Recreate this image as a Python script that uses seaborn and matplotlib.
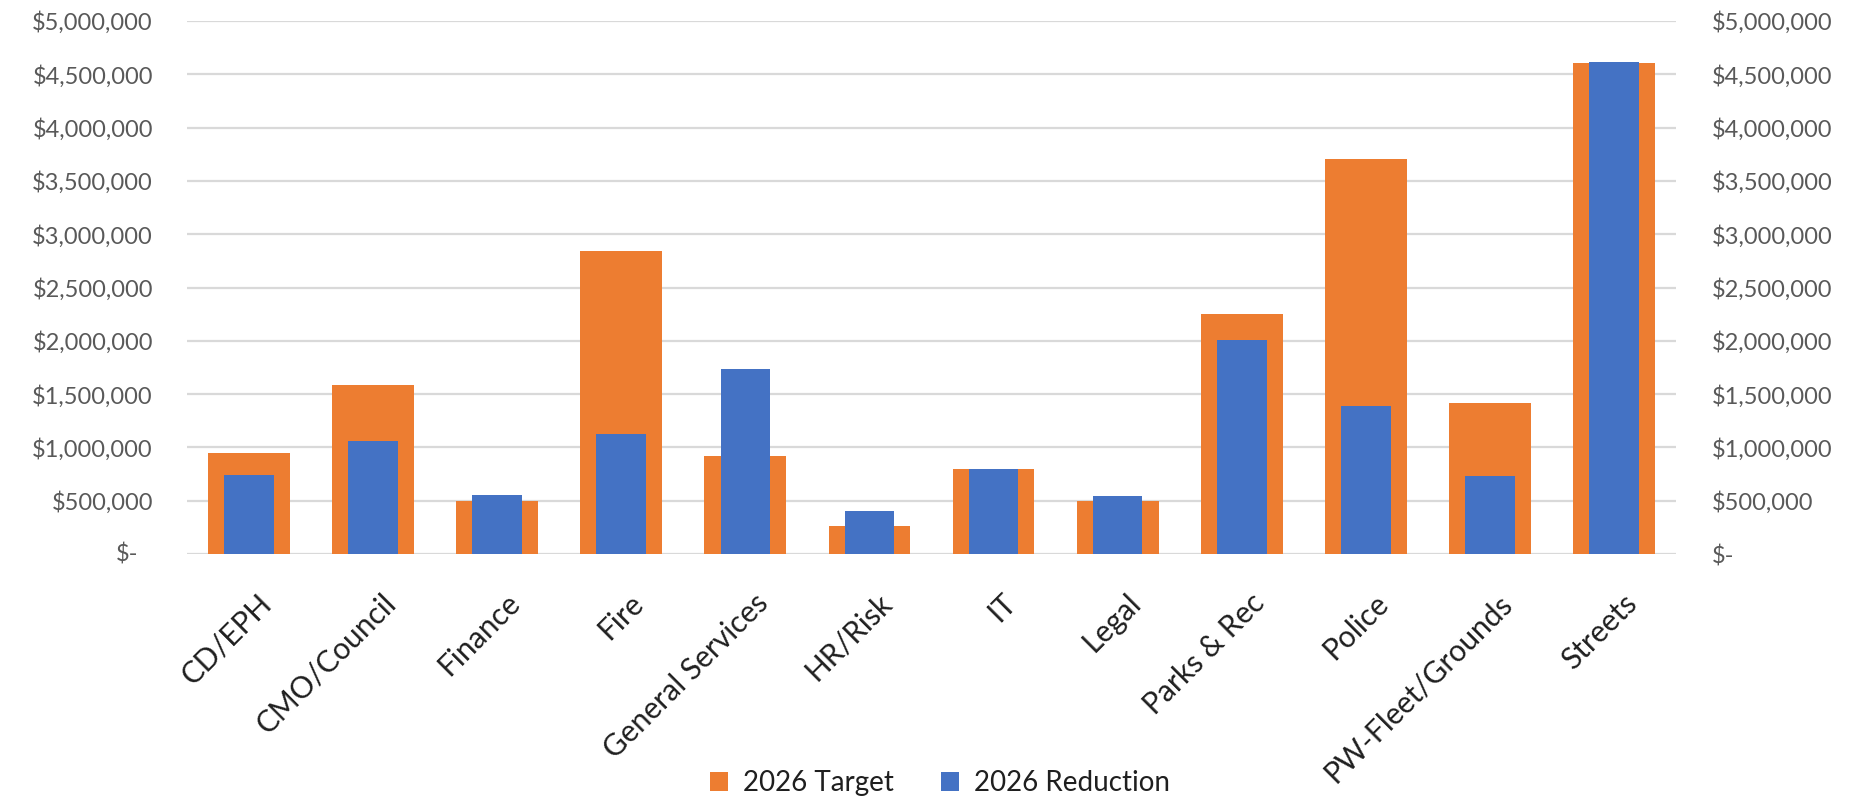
import matplotlib
matplotlib.use("Agg")
import matplotlib.pyplot as plt
import matplotlib.transforms as mtransforms
from matplotlib.patches import Patch
from matplotlib.ticker import FuncFormatter, MultipleLocator
import pandas as pd
import seaborn as sns

# Department budget figures (USD)
departments = ["CD/EPH", "CMO/Council", "Finance", "Fire", "General Services",
               "HR/Risk", "IT", "Legal", "Parks & Rec", "Police",
               "PW-Fleet/Grounds", "Streets"]
target_2026 = [951000, 1584000, 497000, 2847000, 916000, 261000,
               794000, 493000, 2248000, 3710000, 1417000, 4603000]
reduction_2026 = [739000, 1058000, 556000, 1130000, 1736000, 399000,
                  797000, 540000, 2007000, 1386000, 731000, 4619000]
series_names = ["2026 Target", "2026 Reduction"]

ORANGE = "#ED7D31"
BLUE = "#4472C4"
GRID = "#D9D9D9"
TICK_GREY = "#595959"
DARK = "#1F1F1F"

sns.set_theme(style="white")
plt.rcParams["font.family"] = ["Lato", "DejaVu Sans"]

df = pd.DataFrame({"dept": departments,
                   "target": target_2026,
                   "reduction": reduction_2026})

W, H = 1868, 798
fig = plt.figure(figsize=(W / 100, H / 100), dpi=100)
ax = fig.add_axes([187 / W, (H - 554) / H, 1489 / W, 533 / H])
ax2 = ax.twinx()

# Wide target bars on the primary axis, narrower reduction bars on the secondary
sns.barplot(data=df, x="dept", y="target", color=ORANGE, saturation=1,
            width=0.66, ax=ax, zorder=2, linewidth=0)
sns.barplot(data=df, x="dept", y="reduction", color=BLUE, saturation=1,
            width=0.40, ax=ax2, zorder=2, linewidth=0)

ymax = 5_000_000
for a in (ax, ax2):
    a.set_ylim(0, ymax)
    a.yaxis.set_major_locator(MultipleLocator(500_000))
    a.set_xlabel("")
    a.set_ylabel("")
    for s in a.spines.values():
        s.set_visible(False)
    a.tick_params(axis="both", length=0)

ax.set_xlim(-0.5, len(departments) - 0.5)
ax.set_axisbelow(True)
ax.grid(axis="y", color=GRID, linewidth=1.6)
ax.grid(axis="x", visible=False)
ax2.grid(False)


def money(v, pos=None):
    if v == 0:
        return "$-"
    return f"${v:,.0f}"


def money_left(v, pos=None):
    return "" if v == 0 else money(v)


ax.yaxis.set_major_formatter(FuncFormatter(money_left))
ax2.yaxis.set_major_formatter(FuncFormatter(money))
ax.tick_params(axis="y", labelsize=17, labelcolor=TICK_GREY, pad=24.5)
ax2.tick_params(axis="y", labelsize=17, labelcolor=TICK_GREY, pad=26)

# Zero label on the left axis sits a little inside the column of amounts
zero_trans = mtransforms.blended_transform_factory(ax.transAxes, ax.transData)
ax.text(-(34 + 15) / 1489, 0, "$-", transform=zero_trans, ha="right",
        va="center", fontsize=17, color=TICK_GREY)

ax.set_xticks(range(len(departments)))
ax.set_xticklabels(departments, rotation=45, ha="right", va="top",
                   rotation_mode="anchor")
ax.tick_params(axis="x", labelsize=21.5, labelcolor=DARK, pad=25)
nudge = mtransforms.ScaledTranslation(8 / 100, 0, fig.dpi_scale_trans)
for lab in ax.get_xticklabels():
    lab.set_transform(lab.get_transform() + nudge)

handles = [Patch(facecolor=ORANGE, edgecolor="none"),
           Patch(facecolor=BLUE, edgecolor="none")]
fig.legend(handles, series_names, loc="center",
           bbox_to_anchor=(940 / W, 15 / H), ncol=2, frameon=False,
           fontsize=20, labelcolor=DARK, handlelength=0.65,
           handleheight=0.65, handletextpad=0.55, columnspacing=1.7,
           borderaxespad=0, borderpad=0)

fig.savefig("out.png", dpi=100, facecolor="white")
